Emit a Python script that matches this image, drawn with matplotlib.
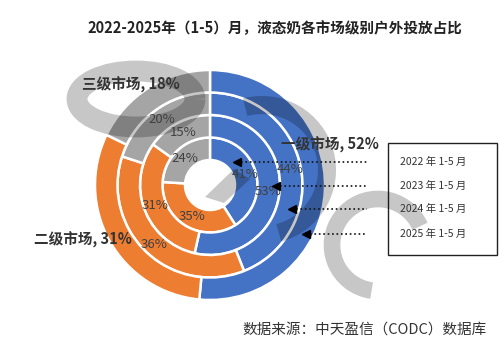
import matplotlib
matplotlib.use("Agg")
import matplotlib.pyplot as plt
from matplotlib.patches import Arc, Polygon

plt.rcParams['font.family'] = ['Noto Sans CJK SC', 'DejaVu Sans']

# data, innermost ring first
years = ["2022 年 1-5 月", "2023 年 1-5 月", "2024 年 1-5 月", "2025 年 1-5 月"]
markets = ["一级市场", "二级市场", "三级市场"]
tier1 = [41, 53, 44, 52]
tier2 = [35, 31, 36, 31]
tier3 = [24, 15, 20, 18]

colors = ['#4472C4', '#ED7D31', '#A5A5A5']

fig = plt.figure(figsize=(5.0, 3.39), dpi=100)
ax = fig.add_axes([0, 0, 1, 1])
ax.set_xlim(0, 500)
ax.set_ylim(0, 339)
ax.set_aspect('equal')
ax.axis('off')

cx, cy = 210, 154
hole = 25
width = 22.5

for i in range(len(years)):
    vals = [tier1[i], tier2[i], tier3[i]]
    r = hole + width * (i + 1)
    labs = [f"{v}%" for v in vals]
    if i == len(years) - 1:
        labs = ["", "", ""]
    ax.pie(vals, radius=r, center=(cx, cy), startangle=90, counterclock=False,
           colors=colors, labels=labs, labeldistance=(r - width / 2) / r,
           wedgeprops=dict(width=width, edgecolor='white', linewidth=1.8),
           textprops=dict(ha='center', va='center', fontsize=9.5, color='#404040'))

# watermark (rough shapes, semi-transparent)
wm = dict(color='black', alpha=0.22, zorder=2, capstyle='butt')
ax.add_patch(Arc((136, 240), 118, 56, theta1=0, theta2=360, lw=15, **wm))
ax.add_patch(Arc((262, 169), 130, 130, theta1=-75, theta2=105, lw=13, **wm))
ax.add_patch(Arc((378, 94), 92, 92, theta1=24, theta2=262, lw=12, **wm))
ax.add_patch(Polygon([(205, 142), (234, 170), (250, 160), (224, 136)],
                     closed=True, facecolor='black', edgecolor='none', alpha=0.22, zorder=2))

# outer ring labels (moved by hand in the original)
outer_pos = [(330, 194), (83, 99), (131, 254)]
for name, v, (x, y) in zip(markets, [tier1[-1], tier2[-1], tier3[-1]], outer_pos):
    ax.text(x, y, f"{name}, {v}%", ha='center', va='center', fontsize=10.5,
            fontweight='bold', color='#333333', zorder=4)

ax.set_xlim(0, 500)
ax.set_ylim(0, 339)

# legend box with arrows
ax.add_patch(plt.Rectangle((388, 84), 109, 112, fill=False, edgecolor='#222222', lw=1.0))
arrow_y = [177, 153, 130, 105]
arrow_x = [233, 272, 288, 302]
for yr, y, x in zip(years, arrow_y, arrow_x):
    ax.text(400, y, yr, ha='left', va='center', fontsize=7.5, color='#333333')
    ax.plot([x + 8, 367], [y, y], ls=':', color='#111111', lw=1.2, zorder=4)
    ax.plot(x + 4, y, marker='<', color='black', ms=6, zorder=4)

fig.text(0.55, 0.918, "2022-2025年（1-5）月，液态奶各市场级别户外投放占比",
         ha='center', va='center', fontsize=10.5, fontweight='bold', color='#222222')
fig.text(0.73, 0.027, "数据来源：中天盈信（CODC）数据库", ha='center', va='center',
         fontsize=10.5, color='#333333')

fig.savefig("out.png", dpi=100)
